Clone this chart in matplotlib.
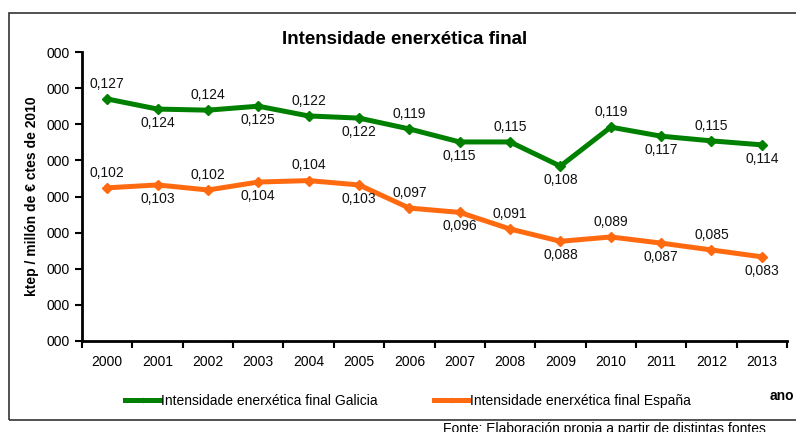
import matplotlib.pyplot as plt
import matplotlib.patches as patches
from matplotlib.ticker import FixedLocator, FixedFormatter, MultipleLocator

plt.rcParams['font.family'] = ['Liberation Sans', 'DejaVu Sans']

# datos
anos = ['2000', '2001', '2002', '2003', '2004', '2005', '2006',
        '2007', '2008', '2009', '2010', '2011', '2012', '2013']
galicia = [0.1270, 0.1242, 0.1239, 0.1250, 0.1223, 0.1217, 0.1187,
           0.1151, 0.1151, 0.1084, 0.1192, 0.1167, 0.1154, 0.1143]
espana = [0.1024, 0.1032, 0.1018, 0.1040, 0.1044, 0.1032, 0.0968,
          0.0956, 0.0910, 0.0876, 0.0888, 0.0871, 0.0852, 0.0833]
y_ticks = [0.06, 0.07, 0.08, 0.09, 0.10, 0.11, 0.12, 0.13, 0.14]
y_tick_labels = ['000'] * len(y_ticks)

verde = '#008000'
laranxa = '#FF6A10'

fig = plt.figure(figsize=(7.96, 4.32), dpi=100)
W, H = 796, 432

# marco exterior
fig.patches.append(patches.Rectangle((9 / W, 1 - 420 / H), 1.2, (420 - 13) / H,
                                     transform=fig.transFigure, fill=False,
                                     edgecolor='#333333', linewidth=1.2))

ax = fig.add_axes([82 / W, 1 - 341 / H, (787 - 82) / W, (341 - 52) / H])
x = list(range(len(anos)))

l1, = ax.plot(x, galicia, color=verde, lw=3.6, marker='D', ms=5.5,
              label='Intensidade enerxética final Galicia', solid_joinstyle='miter')
l2, = ax.plot(x, espana, color=laranxa, lw=3.6, marker='D', ms=5.5,
              label='Intensidade enerxética final España', solid_joinstyle='miter')

for serie in (galicia, espana):
    for i, v in enumerate(serie):
        txt = ('%.3f' % v).replace('.', ',')
        dy = 11 if i % 2 == 0 else -10
        ax.annotate(txt, (i, v), xytext=(0, dy), textcoords='offset points',
                    ha='center', va='center', fontsize=10, color='#111111')

ax.set_xlim(-0.5, len(anos) - 0.5)
ax.set_ylim(0.06, 0.14)
ax.yaxis.set_major_locator(FixedLocator(y_ticks))
ax.yaxis.set_major_formatter(FixedFormatter(y_tick_labels))
ax.set_xticks(x)
ax.set_xticklabels(anos)
ax.xaxis.set_minor_locator(MultipleLocator(1, offset=0.5))
ax.tick_params(axis='x', which='major', length=0, pad=10, labelsize=10)
ax.tick_params(axis='x', which='minor', length=5, width=1.5, direction='out')
ax.tick_params(axis='y', length=5, width=1.5, direction='out', labelsize=10, pad=4)

for s in ('top', 'right'):
    ax.spines[s].set_visible(False)
for s in ('left', 'bottom'):
    ax.spines[s].set_linewidth(2)

ax.set_ylabel('ktep / millón de € ctes de 2010', fontsize=10, fontweight='bold', labelpad=5)

fig.text(405 / W, 1 - 40 / H, 'Intensidade enerxética final', ha='center', va='center',
         fontsize=13.5, fontweight='bold')

fig.legend(handles=[l1, l2], loc='center', bbox_to_anchor=(408 / W, 1 - 401 / H),
           ncol=2, frameon=False, fontsize=10, handlelength=2.5, handletextpad=0.1,
           columnspacing=4.0, markerscale=0.4)

fig.text(770 / W, 1 - 396 / H, 'ano', ha='left', va='center', fontsize=10, fontweight='bold')
fig.text(443 / W, 1 - 422 / H, 'Fonte: Elaboración propia a partir de distintas fontes',
         ha='left', va='top', fontsize=10)

fig.savefig('out.png', dpi=100)
